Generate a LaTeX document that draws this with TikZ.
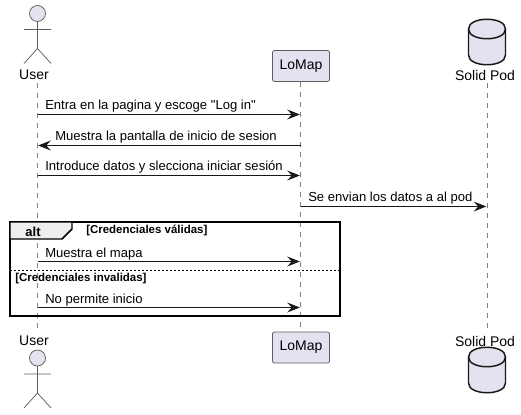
\documentclass[tikz,border=0pt]{standalone}
\usepackage{fontspec}
\setmainfont{Liberation Sans}[Ligatures=TeXOff]
\usetikzlibrary{arrows.meta,calc}
\definecolor{partfill}{HTML}{E2E2F0}
\definecolor{partline}{HTML}{181818}
\definecolor{tabfill}{HTML}{EEEEEE}
\tikzstyle{arrow} = [line width=0.75pt,-{Stealth[length=9.5pt,width=7.5pt,inset=3.5pt]},color=partline,shorten >=0.5pt]
\tikzstyle{lifeline} = [line width=0.5pt,color=partline!55,dash pattern=on 3.75pt off 3.75pt]
\tikzstyle{msglabel} = [font=\fontsize{9.8pt}{11pt}\selectfont,inner sep=0pt,anchor=base west,text=black]
\tikzstyle{partname} = [font=\fontsize{10.5pt}{12pt}\selectfont,inner sep=0pt,anchor=center,text=black]
\tikzstyle{partbox} = [rectangle,rounded corners=1.5pt,draw=partline!70,line width=0.6pt,fill=partfill,minimum width=42.75pt,minimum height=23.25pt,inner sep=0pt,font=\fontsize{10.5pt}{12pt}\selectfont]
\tikzstyle{guard} = [font=\bfseries\fontsize{8.6pt}{10pt}\selectfont,inner sep=0pt,anchor=base west,text=black]
\tikzset{
  actorfig/.pic={
    \draw[draw=partline!70,line width=0.55pt,fill=partfill] (0,0) circle (8);
    \draw[draw=partline!70,line width=0.55pt] (0,8) -- (0,35) (-13.5,16) -- (13.5,16)
      (-13.5,50) -- (0,35) -- (13.5,50);
  },
  dbfig/.pic={
    \draw[draw=partline,line width=1.1pt,fill=partfill] (-18.5,10)
      .. controls (-18.5,-3) and (18.5,-3) .. (18.5,10) -- (18.5,36)
      .. controls (18.5,49) and (-18.5,49) .. (-18.5,36) -- cycle;
    \draw[draw=partline,line width=1.1pt] (-18.5,10) .. controls (-18.5,23) and (18.5,23) .. (18.5,10);
  }
}
\begin{document}
\begin{tikzpicture}[x=0.75pt,y=-0.75pt]
    \useasboundingbox (0,0) rectangle (521,414);
    % lifelines
    \coordinate (user_top) at (37.5,83);
    \coordinate (user_bot) at (37.5,332);
    \coordinate (lomap_top) at (300.5,82);
    \coordinate (lomap_bot) at (300.5,332);
    \coordinate (pod_top) at (487,83);
    \coordinate (pod_bot) at (487,332);
    \draw[lifeline] (user_top) -- (user_bot);
    \draw[lifeline] (lomap_top) -- (lomap_bot);
    \draw[lifeline] (pod_top) -- (pod_bot);
    % participants
    \node[partname](user_t) at (34,75){User};
    \pic at (37.5,13.5) {actorfig};
    \node[partbox](lomap_t) at (301,66){LoMap};
    \node[partname](pod_t) at (485,75){Solid Pod};
    \pic at (487,19) {dbfig};
    \node[partname](user_b) at (34,341){User};
    \pic at (37.5,358) {actorfig};
    \node[partbox](lomap_b) at (301,347.5){LoMap};
    \node[partname](pod_b) at (485,341){Solid Pod};
    \pic at (487,347) {dbfig};
    % alt frame
    \node[draw=black,line width=1.5pt,minimum width=247.5pt,minimum height=70.5pt,inner sep=0pt](alt_frame) at (175,269){};
    \draw[line width=1.1pt,draw=black,fill=tabfill] (10,222) -- (72,222) -- (72,229) -- (62,239) -- (10,239) -- cycle;
    \node[font=\bfseries\fontsize{9.75pt}{11pt}\selectfont,inner sep=0pt](alt_tag) at (33,231.5){alt};
    \node[guard](guard_a) at (86,233){[Credenciales válidas]};
    \coordinate (div_l) at (10,270.5);
    \coordinate (div_r) at (340,270.5);
    \draw[line width=0.6pt,dash pattern=on 1.5pt off 1.5pt] (div_l) -- (div_r);
    \node[guard](guard_b) at (15,281){[Credenciales invalidas]};
    % messages
    \coordinate (u1) at (37.5,114.5); \coordinate (l1) at (300.5,114.5);
    \coordinate (u2) at (37.5,145.5); \coordinate (l2) at (300.5,145.5);
    \coordinate (u3) at (37.5,175.5); \coordinate (l3) at (300.5,175.5);
    \coordinate (l4) at (300.5,206.5); \coordinate (p4) at (487,206.5);
    \coordinate (u5) at (37.5,261.5); \coordinate (l5) at (300.5,261.5);
    \coordinate (u6) at (37.5,307.5); \coordinate (l6) at (300.5,307.5);
    \draw[arrow] (u1) -- (l1);
    \draw[arrow] (l2) -- (u2);
    \draw[arrow] (u3) -- (l3);
    \draw[arrow] (l4) -- (p4);
    \draw[arrow] (u5) -- (l5);
    \draw[arrow] (u6) -- (l6);
    \node[msglabel](m1) at (45,109){Entra en la pagina y escoge "Log in"};
    \node[msglabel](m2) at (55,140){Muestra la pantalla de inicio de sesion};
    \node[msglabel](m3) at (45,170.5){Introduce datos y slecciona iniciar sesión};
    \node[msglabel](m4) at (308,201){Se envian los datos a al pod};
    \node[msglabel](m5) at (45,257){Muestra el mapa};
    \node[msglabel](m6) at (45,303){No permite inicio};
\end{tikzpicture}
\end{document}
